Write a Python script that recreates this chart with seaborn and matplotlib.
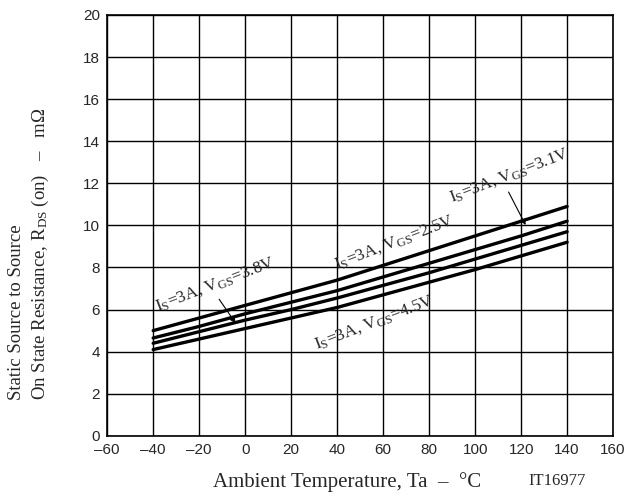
import numpy as np
import pandas as pd
import matplotlib
matplotlib.use("Agg")
import matplotlib.pyplot as plt
import seaborn as sns

# данные
temp = [-40, -20, 0, 20, 40, 60, 80, 100, 120, 140]
r_25 = [5.0, 5.6, 6.2, 6.8, 7.4, 8.1, 8.8, 9.5, 10.2, 10.9]
r_31 = [4.65, 5.2, 5.8, 6.35, 6.9, 7.55, 8.2, 8.85, 9.5, 10.2]
r_38 = [4.4, 4.95, 5.5, 6.0, 6.55, 7.15, 7.75, 8.4, 9.05, 9.7]
r_45 = [4.1, 4.6, 5.1, 5.6, 6.1, 6.7, 7.3, 7.9, 8.55, 9.2]
vgs = ["2.5V", "3.1V", "3.8V", "4.5V"]

df = pd.DataFrame({
    "temp": temp * 4,
    "r": r_25 + r_31 + r_38 + r_45,
    "vgs": np.repeat(vgs, len(temp)),
})

sns.set_style("white")
plt.rcParams["font.family"] = ["Liberation Sans", "DejaVu Sans"]
plt.rcParams["mathtext.fontset"] = "custom"
plt.rcParams["mathtext.rm"] = "Liberation Serif"
plt.rcParams["mathtext.it"] = "Liberation Serif:italic"

fig = plt.figure(figsize=(6.38, 4.97), dpi=100)
ax = fig.add_axes([0.168, 0.123, 0.793, 0.847])

sns.lineplot(data=df, x="temp", y="r", hue="vgs", palette=["black"] * 4,
             linewidth=2.4, legend=False, ax=ax)

ax.set_xlim(-60, 160)
ax.set_ylim(0, 20)
ax.set_xticks(range(-60, 161, 20))
ax.set_yticks(range(0, 21, 2))
ax.set_xticklabels([("\u2013" + str(-t) if t < 0 else str(t)) for t in range(-60, 161, 20)])
ax.grid(True, color="black", linewidth=1.0)
for s in ax.spines.values():
    s.set_color("black")
    s.set_linewidth(1.2)
ax.tick_params(axis="both", length=0, labelsize=11)
ax.tick_params(axis="x", pad=5)
ax.tick_params(axis="y", pad=5)

serif = ["Liberation Serif", "DejaVu Serif"]
ax.set_xlabel("Ambient Temperature, Ta  \u2013  \u00b0C", family=serif, fontsize=15, labelpad=9)
ax.xaxis.set_label_coords(0.475, -0.085)
ax.set_ylabel("")
fig.text(0.012, 0.195,
         "Static Source to Source\nOn State Resistance, R$_\\mathrm{DS}$ (on)   \u2013   m\u03a9",
         family=serif, fontsize=13.5, rotation=90, ha="left", va="bottom",
         multialignment="left", linespacing=1.35)
fig.text(0.918, 0.025, "IT16977", family=serif, fontsize=12, ha="right")

lab = "I$_\\mathrm{S}$=3A, V$_\\mathrm{GS}$="
ax.text(65, 9.2, lab + "2.5V", family=serif, fontsize=12.5, rotation=21, ha="center", va="center")
ax.text(115, 12.4, lab + "3.1V", family=serif, fontsize=12.5, rotation=21, ha="center", va="center")
ax.text(-13, 7.2, lab + "3.8V", family=serif, fontsize=12.5, rotation=21, ha="center", va="center")
ax.text(56, 5.4, lab + "4.5V", family=serif, fontsize=12.5, rotation=21, ha="center", va="center")

arr = dict(arrowstyle="-|>", color="black", lw=0.8, mutation_scale=8)
ax.annotate("", xy=(122.5, 9.9), xytext=(114, 11.7), arrowprops=arr)
ax.annotate("", xy=(-3.5, 5.25), xytext=(-12, 6.6), arrowprops=arr)

fig.savefig("out.png", dpi=100)
